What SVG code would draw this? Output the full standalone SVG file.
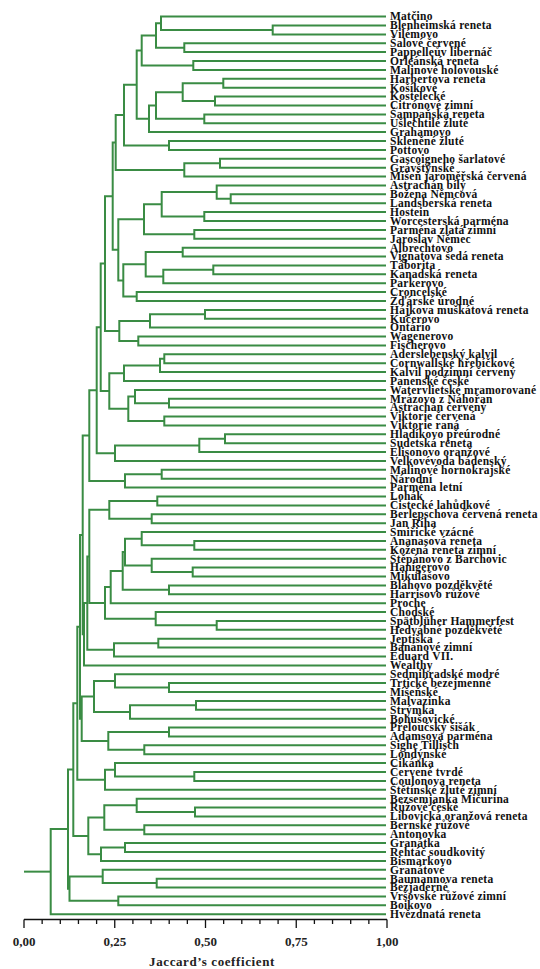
<svg xmlns="http://www.w3.org/2000/svg" width="540" height="969" viewBox="0 0 540 969">
<style>
.c{fill:none;stroke:#3a8c44;stroke-width:2;stroke-linejoin:miter}
.l{font-family:"Liberation Serif","Times New Roman",serif;font-weight:bold;font-size:11.5px;letter-spacing:0.25px;fill:#111}
.ax{stroke:#111;stroke-width:1.3;fill:none}
.t{font-family:"Liberation Serif","Times New Roman",serif;font-weight:bold;font-size:13px;fill:#222;text-anchor:middle}
</style>
<rect width="540" height="969" fill="#fff"/>
<g id="connectors" class="c">
<path d="M24 871.65H50.7"/>
<path d="M386 25.5H272.7V34.4H386"/>
<path d="M386 16.6H161V29.95H272.7"/>
<path d="M386 43.3H184.3V52.1H386"/>
<path d="M161 23.3H156V47.7H184.3"/>
<path d="M386 61H193.3V69.9H386"/>
<path d="M156 35.5H141.7V65.45H193.3"/>
<path d="M386 78.8H223.3V87.7H386"/>
<path d="M386 96.6H215V105.5H386"/>
<path d="M223.3 83.25H182.7V101.05H215"/>
<path d="M386 114.4H204.3V123.2H386"/>
<path d="M182.7 92.15H156V118.8H204.3"/>
<path d="M156 105.5H149V132.1H386"/>
<path d="M141.7 50.5H136.7V118.8H149"/>
<path d="M386 141H169V149.9H386"/>
<path d="M136.7 84.65H124V145.45H169"/>
<path d="M386 158.8H220V167.7H386"/>
<path d="M220 163.25H184.3V176.6H386"/>
<path d="M124 115.05H115.7V169.9H184.3"/>
<path d="M386 194.3H230.7V203.2H386"/>
<path d="M386 185.5H216.7V198.75H230.7"/>
<path d="M386 212.1H204.3V221H386"/>
<path d="M216.7 192.1H161.7V216.55H204.3"/>
<path d="M386 229.9H194.3V238.8H386"/>
<path d="M161.7 204.3H144V234.35H194.3"/>
<path d="M386 247.7H182.7V256.5H386"/>
<path d="M386 265.4H213.3V274.3H386"/>
<path d="M213.3 269.85H163.3V283.2H386"/>
<path d="M182.7 252.1H145.7V276.5H163.3"/>
<path d="M386 292.1H136.7V301H386"/>
<path d="M145.7 264.3H123.3V296.55H136.7"/>
<path d="M144 219.3H118.3V280.4H123.3"/>
<path d="M115.7 142.5H112.7V249.85H118.3"/>
<path d="M386 309.9H205V318.8H386"/>
<path d="M205 314.35H150V327.6H386"/>
<path d="M386 336.5H138.3V345.4H386"/>
<path d="M150 321H119.3V340.95H138.3"/>
<path d="M112.7 196.2H105V331H119.3"/>
<path d="M386 354.3H164.3V363.2H386"/>
<path d="M164.3 358.75H160V372.1H386"/>
<path d="M160 365.4H124V381H386"/>
<path d="M386 398.7H169V407.6H386"/>
<path d="M386 389.9H135V403.15H169"/>
<path d="M386 416.5H164.3V425.4H386"/>
<path d="M135 396.5H128.3V420.95H164.3"/>
<path d="M124 373.2H109.3V408.7H128.3"/>
<path d="M105 263.6H100.7V390.95H109.3"/>
<path d="M386 434.3H225V443.2H386"/>
<path d="M225 438.75H199.3V452.1H386"/>
<path d="M199.3 445.4H115V461H386"/>
<path d="M100.7 327.3H96.7V453.2H115"/>
<path d="M386 469.8H161.7V478.7H386"/>
<path d="M161.7 474.25H125V487.6H386"/>
<path d="M96.7 390.25H89.3V480.9H125"/>
<path d="M386 496.5H157.3V505.4H386"/>
<path d="M386 514.3H151.7V523.2H386"/>
<path d="M157.3 500.95H109.3V518.75H151.7"/>
<path d="M386 540.9H194.3V549.8H386"/>
<path d="M386 532.1H141.7V545.35H194.3"/>
<path d="M386 567.6H192.7V576.5H386"/>
<path d="M386 558.7H151.7V572.05H192.7"/>
<path d="M141.7 538.7H125V565.4H151.7"/>
<path d="M386 585.4H169V594.3H386"/>
<path d="M125 552.05H122.7V589.85H169"/>
<path d="M122.7 570.95H110.7V603.2H386"/>
<path d="M386 620.9H216.7V629.8H386"/>
<path d="M386 612H155.7V625.35H216.7"/>
<path d="M110.7 587.1H105V618.7H155.7"/>
<path d="M109.3 509.85H89.3V602.9H105"/>
<path d="M386 638.7H158.3V647.6H386"/>
<path d="M158.3 643.15H114V656.5H386"/>
<path d="M89.3 556.4H87.3V649.8H114"/>
<path d="M87.3 603.1H84V665.4H386"/>
<path d="M89.3 435.6H82.7V634.25H84"/>
<path d="M386 683.1H169V692H386"/>
<path d="M386 674.3H115V687.55H169"/>
<path d="M386 700.9H196V709.8H386"/>
<path d="M196 705.35H130V718.7H386"/>
<path d="M115 680.9H94V712H130"/>
<path d="M386 727.6H169V736.5H386"/>
<path d="M386 745.3H144.3V754.2H386"/>
<path d="M169 732.05H108.3V749.75H144.3"/>
<path d="M94 696.45H81.7V740.9H108.3"/>
<path d="M82.7 534.9H80V718.7H81.7"/>
<path d="M386 772H194.3V780.9H386"/>
<path d="M386 763.1H115V776.45H194.3"/>
<path d="M115 769.8H105V789.8H386"/>
<path d="M80 626.8H77.3V779.8H105"/>
<path d="M386 807.6H195V816.4H386"/>
<path d="M386 798.7H136.7V812H195"/>
<path d="M386 825.3H144.3V834.2H386"/>
<path d="M136.7 805.35H104.3V829.75H144.3"/>
<path d="M386 843.1H125V852H386"/>
<path d="M125 847.55H101V860.9H386"/>
<path d="M104.3 817.55H88.3V854.2H101"/>
<path d="M77.3 703.3H73.3V835.9H88.3"/>
<path d="M386 878.7H156.7V887.5H386"/>
<path d="M386 869.8H102.7V883.1H156.7"/>
<path d="M386 896.4H118.3V905.3H386"/>
<path d="M102.7 876.45H69.5V900.85H118.3"/>
<path d="M73.3 769.6H68V888.65H69.5"/>
<path d="M68 829.1H50.7V914.2H386"/>
</g>
<g id="leaves" class="l">
<g id="n1"><text x="390" y="20.4">Matčino</text></g>
<g id="n2"><text x="390" y="29.3">Blenheimská reneta</text></g>
<g id="n3"><text x="390" y="38.2">Vilémovo</text></g>
<g id="n4"><text x="390" y="47.1">Šalové červené</text></g>
<g id="n5"><text x="390" y="55.9">Pappelleův libernáč</text></g>
<g id="n6"><text x="390" y="64.8">Orleánská reneta</text></g>
<g id="n7"><text x="390" y="73.7">Malinové holovouské</text></g>
<g id="n8"><text x="390" y="82.6">Harbertova reneta</text></g>
<g id="n9"><text x="390" y="91.5">Košíkové</text></g>
<g id="n10"><text x="390" y="100.4">Kostelecké</text></g>
<g id="n11"><text x="390" y="109.3">Citrónové zimní</text></g>
<g id="n12"><text x="390" y="118.2">Šampaňská reneta</text></g>
<g id="n13"><text x="390" y="127">Ušlechtilé žluté</text></g>
<g id="n14"><text x="390" y="135.9">Grahamovo</text></g>
<g id="n15"><text x="390" y="144.8">Skleněné žluté</text></g>
<g id="n16"><text x="390" y="153.7">Pottovo</text></g>
<g id="n17"><text x="390" y="162.6">Gascoigneho šarlatové</text></g>
<g id="n18"><text x="390" y="171.5">Grávštýnské</text></g>
<g id="n19"><text x="390" y="180.4">Míšeň jaroměřská červená</text></g>
<g id="n20"><text x="390" y="189.3">Astrachán bílý</text></g>
<g id="n21"><text x="390" y="198.1">Božena Němcová</text></g>
<g id="n22"><text x="390" y="207">Landsberská reneta</text></g>
<g id="n23"><text x="390" y="215.9">Hostein</text></g>
<g id="n24"><text x="390" y="224.8">Worcesterská parména</text></g>
<g id="n25"><text x="390" y="233.7">Parména zlatá zimní</text></g>
<g id="n26"><text x="390" y="242.6">Jaroslav Němec</text></g>
<g id="n27"><text x="390" y="251.5">Albrechtovo</text></g>
<g id="n28"><text x="390" y="260.3">Vignatova šedá reneta</text></g>
<g id="n29"><text x="390" y="269.2">Táborita</text></g>
<g id="n30"><text x="390" y="278.1">Kanadská reneta</text></g>
<g id="n31"><text x="390" y="287">Parkerovo</text></g>
<g id="n32"><text x="390" y="295.9">Croncelské</text></g>
<g id="n33"><text x="390" y="304.8">Žďárské úrodné</text></g>
<g id="n34"><text x="390" y="313.7">Hájkova muškátová reneta</text></g>
<g id="n35"><text x="390" y="322.6">Kučerovo</text></g>
<g id="n36"><text x="390" y="331.4">Ontário</text></g>
<g id="n37"><text x="390" y="340.3">Wagenerovo</text></g>
<g id="n38"><text x="390" y="349.2">Fischerovo</text></g>
<g id="n39"><text x="390" y="358.1">Aderslebenský kalvil</text></g>
<g id="n40"><text x="390" y="367">Cornwallské hřebíčkové</text></g>
<g id="n41"><text x="390" y="375.9">Kalvil podzimní červený</text></g>
<g id="n42"><text x="390" y="384.8">Panenské české</text></g>
<g id="n43"><text x="390" y="393.7">Watervlietské mramorované</text></g>
<g id="n44"><text x="390" y="402.5">Mrázovo z Náhořan</text></g>
<g id="n45"><text x="390" y="411.4">Astrachán červený</text></g>
<g id="n46"><text x="390" y="420.3">Viktorie červená</text></g>
<g id="n47"><text x="390" y="429.2">Viktorie raná</text></g>
<g id="n48"><text x="390" y="438.1">Hladíkovo přeúrodné</text></g>
<g id="n49"><text x="390" y="447">Sudetská reneta</text></g>
<g id="n50"><text x="390" y="455.9">Elisonovo oranžové</text></g>
<g id="n51"><text x="390" y="464.8">Velkovévoda bádenský</text></g>
<g id="n52"><text x="390" y="473.6">Malinové hornokrajské</text></g>
<g id="n53"><text x="390" y="482.5">Národní</text></g>
<g id="n54"><text x="390" y="491.4">Parména letní</text></g>
<g id="n55"><text x="390" y="500.3">Lohák</text></g>
<g id="n56"><text x="390" y="509.2">Čistecké lahůdkové</text></g>
<g id="n57"><text x="390" y="518.1">Berlepschova červená reneta</text></g>
<g id="n58"><text x="390" y="527">Jan Říha</text></g>
<g id="n59"><text x="390" y="535.9">Smiřické vzácné</text></g>
<g id="n60"><text x="390" y="544.7">Ananasová reneta</text></g>
<g id="n61"><text x="390" y="553.6">Kožená reneta zimní</text></g>
<g id="n62"><text x="390" y="562.5">Štěpánovo z Barchovic</text></g>
<g id="n63"><text x="390" y="571.4">Hanigerovo</text></g>
<g id="n64"><text x="390" y="580.3">Mikulášovo</text></g>
<g id="n65"><text x="390" y="589.2">Bláhovo pozděkvěté</text></g>
<g id="n66"><text x="390" y="598.1">Harrisovo růžové</text></g>
<g id="n67"><text x="390" y="607">Proche</text></g>
<g id="n68"><text x="390" y="615.8">Chodské</text></g>
<g id="n69"><text x="390" y="624.7">Spätblüher Hammerfest</text></g>
<g id="n70"><text x="390" y="633.6">Hedvábné pozděkvěté</text></g>
<g id="n71"><text x="390" y="642.5">Jeptiška</text></g>
<g id="n72"><text x="390" y="651.4">Banánové zimní</text></g>
<g id="n73"><text x="390" y="660.3">Eduard VII.</text></g>
<g id="n74"><text x="390" y="669.2">Wealthy</text></g>
<g id="n75"><text x="390" y="678.1">Sedmihradské modré</text></g>
<g id="n76"><text x="390" y="686.9">Trtické bezejmenné</text></g>
<g id="n77"><text x="390" y="695.8">Míšeňské</text></g>
<g id="n78"><text x="390" y="704.7">Malvazinka</text></g>
<g id="n79"><text x="390" y="713.6">Strýmka</text></g>
<g id="n80"><text x="390" y="722.5">Bohušovické</text></g>
<g id="n81"><text x="390" y="731.4">Přeloučský šišák</text></g>
<g id="n82"><text x="390" y="740.3">Adamsova parména</text></g>
<g id="n83"><text x="390" y="749.1">Sighe Tillisch</text></g>
<g id="n84"><text x="390" y="758">Londýnské</text></g>
<g id="n85"><text x="390" y="766.9">Cikánka</text></g>
<g id="n86"><text x="390" y="775.8">Červené tvrdé</text></g>
<g id="n87"><text x="390" y="784.7">Coulonova reneta</text></g>
<g id="n88"><text x="390" y="793.6">Štětínské žluté zimní</text></g>
<g id="n89"><text x="390" y="802.5">Bezsemjanka Mičurina</text></g>
<g id="n90"><text x="390" y="811.4">Růžové české</text></g>
<g id="n91"><text x="390" y="820.2">Libovická oranžová reneta</text></g>
<g id="n92"><text x="390" y="829.1">Bernské růžové</text></g>
<g id="n93"><text x="390" y="838">Antonovka</text></g>
<g id="n94"><text x="390" y="846.9">Granátka</text></g>
<g id="n95"><text x="390" y="855.8">Rehtáč soudkovitý</text></g>
<g id="n96"><text x="390" y="864.7">Bismarkovo</text></g>
<g id="n97"><text x="390" y="873.6">Granátové</text></g>
<g id="n98"><text x="390" y="882.5">Baumannova reneta</text></g>
<g id="n99"><text x="390" y="891.3">Bezjaderné</text></g>
<g id="n100"><text x="390" y="900.2">Vršovské růžové zimní</text></g>
<g id="n101"><text x="390" y="909.1">Boikovo</text></g>
<g id="n102"><text x="390" y="918">Hvězdnatá reneta</text></g>
</g>
<g id="axis">
<path class="ax" d="M24 919.5H387 M24 919.5V928 M42.15 919.5V924 M60.3 919.5V924 M78.45 919.5V924 M96.6 919.5V924 M114.75 919.5V928 M132.9 919.5V924 M151.05 919.5V924 M169.2 919.5V924 M187.35 919.5V924 M205.5 919.5V928 M223.65 919.5V924 M241.8 919.5V924 M259.95 919.5V924 M278.1 919.5V924 M296.25 919.5V928 M314.4 919.5V924 M332.55 919.5V924 M350.7 919.5V924 M368.85 919.5V924 M387 919.5V928"/>
<text class="t" x="24" y="946">0,00</text>
<text class="t" x="114.75" y="946">0,25</text>
<text class="t" x="205.5" y="946">0,50</text>
<text class="t" x="296.25" y="946">0,75</text>
<text class="t" x="387" y="946">1,00</text>
<text class="t" x="212" y="966" style="letter-spacing:0.6px">Jaccard’s coefficient</text>
</g>
</svg>
